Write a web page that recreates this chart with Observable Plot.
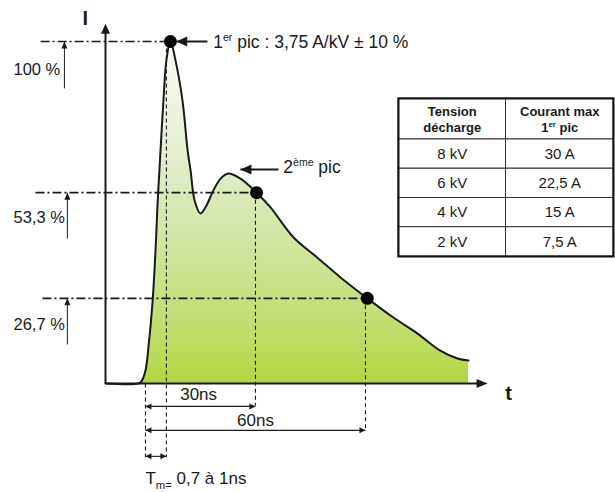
<!DOCTYPE html>
<html><head><meta charset="utf-8">
<script src="https://cdn.jsdelivr.net/npm/d3@7"></script>
<script src="https://cdn.jsdelivr.net/npm/@observablehq/plot@0.6"></script>
<style>
body{margin:0;background:#fff;}
#wrap{position:relative;width:615px;height:492px;font-family:"Liberation Sans",Arial,sans-serif;}
#wrap svg.tbl{position:absolute;left:397px;top:97px;}
</style></head><body><div id="wrap"></div>
<script>
// ---- ESD current waveform: time (ns) vs current (% of 1st peak)
const timeNs = [-10.9, -1.9, -1.1, 0, 0.8, 1.9, 2.7, 3.3, 3.8, 4.9, 5.7, 6.8, 8.2, 10.1, 11.5, 12.3, 13.4, 15.0, 16.6, 18.5, 20.5, 22.6, 25.9, 30.3, 34.1, 40.4, 46.9, 53.2, 60.5, 67.6, 74.2, 80.4, 85.1, 88.1];
const currentPct = [0, 0, 0.6, 3.8, 10.5, 23.4, 38.0, 52.6, 62.3, 82.7, 94.4, 100, 94.4, 82.7, 68.1, 62.3, 53.5, 49.7, 52.0, 56.4, 59.9, 61.4, 59.9, 55.8, 51.5, 42.7, 36.8, 31.0, 24.9, 19.3, 14.6, 9.6, 7.3, 6.7];

// ---- marked points on the curve
const markT = [6.8, 30.3, 60.5];
const markPct = [100, 55.8, 24.9];

// ---- reference levels (dash-dot lines) and their labels
const levelLabels = ["100 %", "53,3 %", "26,7 %"];
const levelPct = [100, 55.8, 24.9];
const levelStartT = [-28.6, -30.0, -28.1];
const levelEndT = [6.8, 30.3, 60.5];
const levelArrowT = [-22.1, -21.3, -21.3];
const levelArrowFromPct = [86.3, 42.4, 11.4];
const levelLabelT = [-36, -36, -36];
const levelLabelPct = [91.8, 48.4, 17.3];

// ---- vertical dashed guides
const guideT = [0, 5.7, 30, 60];
const guideFromPct = [0, 100, 55.8, 24.9];
const guideToPct = [-21.6, -21.6, -6.4, -13.7];

// ---- time dimensions
const dimLabels = ["30ns", "60ns"];
const dimStartT = [0, 0, 0];
const dimEndT = [30, 60, 5.7];
const dimPct = [-6.7, -13.7, -21.3];
const dimLabelT = [14.5, 30];
const dimLabelPct = [-3.2, -10.8];
const tmLabel = ["T_{m=} 0,7 à 1ns"];
const tmLabelT = [0];
const tmLabelPct = [-27.8];

// ---- peak call-outs
const calloutLabels = ["1^{er} pic : 3,75 A/kV ± 10 %", "2^{ème} pic"];
const calloutFromT = [16.9, 36.3];
const calloutTipT = [8.4, 25.9];
const calloutPct = [100, 62.6];
const calloutTextT = [18.5, 37.6];
const calloutTextPct = [99.6, 63.2];

// ---- axes
const axisOriginT = [-10.9];
const yAxisTipPct = [105.2];
const xAxisTipT = [93.3];
const axisNames = ["I", "t"];
const axisNameT = [-16.4, 99];
const axisNamePct = [106.6, -2.9];

// ---- table
const tableHeaders = ["Tension\ndécharge", "Courant max\n1^{er} pic"];
const tensions = ["8 kV", "6 kV", "4 kV", "2 kV"];
const courants = ["30 A", "22,5 A", "15 A", "7,5 A"];

// arrow-head symbols (tip at the data point)
function head(dir, L, W) {
  return {draw(ctx) {
    const pts = {
      left:  [[0,0],[L,-W],[L,W]],
      right: [[0,0],[-L,-W],[-L,W]],
      up:    [[0,0],[-W,L],[W,L]]
    }[dir];
    ctx.moveTo(pts[0][0], pts[0][1]); ctx.lineTo(pts[1][0], pts[1][1]); ctx.lineTo(pts[2][0], pts[2][1]); ctx.closePath();
  }};
}

const ink = "#1a1a1a";
const curve = timeNs.map((t, i) => ({t, v: currentPct[i]}));
const marks = markT.map((t, i) => ({t, v: markPct[i]}));
const levels = levelLabels.map((label, i) => ({label, v: levelPct[i], t1: levelStartT[i], t2: levelEndT[i], at: levelArrowT[i], a1: levelArrowFromPct[i], lt: levelLabelT[i], lv: levelLabelPct[i]}));
const guides = guideT.map((t, i) => ({t, v1: guideFromPct[i], v2: guideToPct[i]}));
const dims = dimStartT.map((t1, i) => ({t1, t2: dimEndT[i], v: dimPct[i]}));
const dimTexts = dimLabels.map((label, i) => ({label, t: dimLabelT[i], v: dimLabelPct[i]}));
const tmTexts = tmLabel.map((label, i) => ({label, t: tmLabelT[i], v: tmLabelPct[i]}));
const callouts = calloutLabels.map((label, i) => ({label, t1: calloutFromT[i], t2: calloutTipT[i], v: calloutPct[i], lt: calloutTextT[i], lv: calloutTextPct[i]}));
const names = axisNames.map((label, i) => ({label, t: axisNameT[i], v: axisNamePct[i]}));

const font = "'Liberation Sans', Arial, sans-serif";

const chart = Plot.plot({
  width: 615, height: 492,
  marginLeft: 105, marginRight: 125, marginTop: 41, marginBottom: 109,
  x: {domain: [-10.9, 94.1], axis: null},
  y: {domain: [0, 100], axis: null},
  style: {fontFamily: font, color: ink, background: "white", overflow: "visible"},
  marks: [
    Plot.areaY(curve, {x: "t", y1: 0, y2: "v", fill: "url(#esdFill)", curve: "catmull-rom"}),
    Plot.link(guides, {x1: "t", x2: "t", y1: "v1", y2: "v2", stroke: ink, strokeWidth: 1.1, strokeDasharray: "4,3"}),
    Plot.link(levels, {x1: "t1", x2: "t2", y1: "v", y2: "v", stroke: ink, strokeWidth: 1.6, strokeDasharray: "9,3,2,3"}),
    Plot.line(curve, {x: "t", y: "v", stroke: ink, strokeWidth: 2, curve: "catmull-rom"}),
    // axes
    Plot.link(axisOriginT, {x1: d => d, x2: d => d, y1: 0, y2: yAxisTipPct[0] - 2, stroke: ink, strokeWidth: 2}),
    Plot.dot(axisOriginT, {x: d => d, y: yAxisTipPct[0], symbol: head("up", 10, 4.5), fill: ink, stroke: "none"}),
    Plot.link(axisOriginT, {x1: d => d, x2: xAxisTipT[0] - 2, y1: 0, y2: 0, stroke: ink, strokeWidth: 2}),
    Plot.dot(xAxisTipT, {x: d => d, y: 0, symbol: head("right", 11, 4.5), fill: ink, stroke: "none"}),
    Plot.text(names, {x: "t", y: "v", text: "label", fontSize: 20, fontWeight: "bold", fill: ink}),
    // level arrows
    Plot.link(levels, {x1: "at", x2: "at", y1: "a1", y2: "v", stroke: ink, strokeWidth: 1}),
    Plot.dot(levels, {x: "at", y: "v", symbol: head("up", 7, 3), fill: ink, stroke: "none"}),
    Plot.text(levels, {x: "lt", y: "lv", text: "label", textAnchor: "start", fontSize: 16.5, fill: ink}),
    // dimensions
    Plot.link(dims, {x1: "t1", x2: "t2", y1: "v", y2: "v", stroke: ink, strokeWidth: 1.1}),
    Plot.dot(dims, {x: "t1", y: "v", symbol: head("left", 6, 3), fill: ink, stroke: "none"}),
    Plot.dot(dims, {x: "t2", y: "v", symbol: head("right", 6, 3), fill: ink, stroke: "none"}),
    Plot.text(dimTexts, {x: "t", y: "v", text: "label", textAnchor: "middle", fontSize: 17, fill: ink}),
    Plot.text(tmTexts, {x: "t", y: "v", text: "label", textAnchor: "start", fontSize: 17, fill: ink}),
    // call-outs
    Plot.link(callouts, {x1: "t1", x2: "t2", y1: "v", y2: "v", stroke: ink, strokeWidth: 2}),
    Plot.dot(callouts, {x: "t2", y: "v", symbol: head("left", 11, 5), fill: ink, stroke: "none"}),
    Plot.text(callouts, {x: "lt", y: "lv", text: "label", textAnchor: "start", fontSize: 17.5, fill: ink}),
    // marked points
    Plot.dot(marks, {x: "t", y: "v", r: 6.5, fill: "#000", stroke: "none"})
  ]
});

// gradient for the area fill
const defs = d3.select(chart).insert("defs", ":first-child");
const grad = defs.append("linearGradient").attr("id", "esdFill").attr("x1", 0).attr("y1", 0).attr("x2", 0).attr("y2", 1);
[[0, "#fbfdf7"], [0.3, "#e4efd4"], [0.55, "#d3e7a8"], [0.8, "#c3de76"], [0.93, "#bada55"], [1, "#b2d63f"]]
  .forEach(([o, c]) => grad.append("stop").attr("offset", o).attr("stop-color", c));

// ---- table as a second Plot with cells
const cells = [];
tableHeaders.forEach((h, c) => cells.push({c, y1: 0, y2: 1.4, label: h, head: true}));
tensions.forEach((tv, i) => {
  cells.push({c: 0, y1: 1.4 + i, y2: 2.4 + i, label: tv, head: false});
  cells.push({c: 1, y1: 1.4 + i, y2: 2.4 + i, label: courants[i], head: false});
});
const table = Plot.plot({
  width: 217, height: 160, margin: 1,
  x: {domain: [0, 2], axis: null},
  y: {domain: [5.4, 0], axis: null},
  style: {fontFamily: font, color: ink, background: "white", overflow: "visible"},
  marks: [
    Plot.rect(cells, {x1: "c", x2: d => d.c + 1, y1: "y1", y2: "y2", fill: "white", stroke: "#333", strokeWidth: 1}),
    Plot.frame({stroke: "#111", strokeWidth: 2}),
    Plot.text(cells.filter(d => d.head), {x: d => d.c + 0.5, y: d => (d.y1 + d.y2) / 2, text: "label", fontSize: 13, fontWeight: "bold", fill: ink, lineHeight: 1.25}),
    Plot.text(cells.filter(d => !d.head), {x: d => d.c + 0.5, y: d => (d.y1 + d.y2) / 2, text: "label", fontSize: 15, fill: ink})
  ]
});
table.classList.add("tbl");

const wrap = document.getElementById("wrap");
wrap.appendChild(chart);
wrap.appendChild(table);

// superscripts ^{..} and subscripts _{..}; plain text stays as direct text nodes
function rich(root) {
  root.querySelectorAll("text, tspan").forEach(el => {
    if (el.childNodes.length !== 1 || el.firstChild.nodeType !== 3) return;
    const s = el.textContent;
    if (!/[\^_]\{/.test(s)) return;
    const fs = parseFloat(getComputedStyle(el).fontSize) || 16;
    el.textContent = "";
    const re = /([\^_])\{([^}]*)\}/g;
    let last = 0, off = 0, m;
    const add = (txt, shift, size) => {
      if (shift === off && !size) { el.appendChild(document.createTextNode(txt)); return; }
      const t = document.createElementNS("http://www.w3.org/2000/svg", "tspan");
      t.setAttribute("dy", shift - off); off = shift;
      if (size) t.setAttribute("font-size", size);
      t.textContent = txt; el.appendChild(t);
    };
    while ((m = re.exec(s))) {
      if (m.index > last) add(s.slice(last, m.index), 0);
      if (m[1] === "^") add(m[2], -0.4 * fs, 0.6 * fs);
      else add(m[2], 0.3 * fs, 0.66 * fs);
      last = re.lastIndex;
    }
    if (last < s.length) add(s.slice(last), 0);
  });
}
rich(chart); rich(table);
</script></body></html>
